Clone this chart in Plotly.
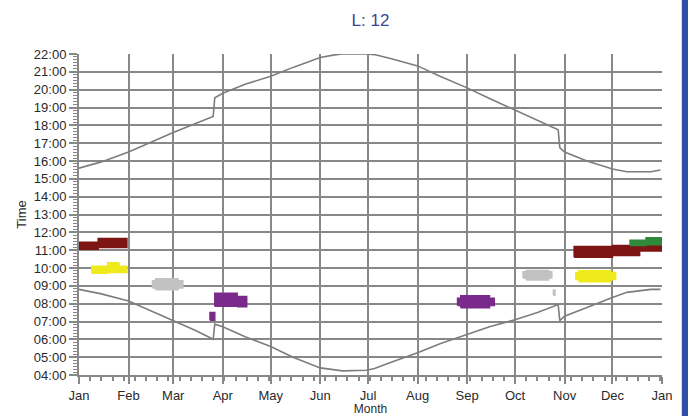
import plotly.graph_objects as go

# Sun curve samples (date, local time)
days = ["2023-01-01", "2023-01-15", "2023-02-01", "2023-02-15", "2023-03-01", "2023-03-15",
        "2023-03-26", "2023-03-27", "2023-04-01", "2023-04-15", "2023-05-01", "2023-05-15",
        "2023-06-01", "2023-06-10", "2023-06-15", "2023-06-30", "2023-07-05", "2023-07-15",
        "2023-08-01", "2023-08-15", "2023-09-01", "2023-09-15", "2023-10-01", "2023-10-15",
        "2023-10-28", "2023-10-29", "2023-11-01", "2023-11-15", "2023-12-01", "2023-12-10",
        "2023-12-25", "2023-12-31"]
sunset = ["15:36", "15:57", "16:30", "17:03", "17:36", "18:06",
          "18:30", "19:33", "19:48", "20:18", "20:45", "21:15",
          "21:48", "21:57", "22:00", "22:00", "21:58", "21:45",
          "21:20", "20:45", "20:06", "19:30", "18:51", "18:15",
          "17:45", "16:45", "16:30", "16:00", "15:33", "15:24",
          "15:24", "15:30"]
sunrise = ["08:48", "08:33", "08:09", "07:36", "07:03", "06:30",
           "06:00", "06:51", "06:42", "06:09", "05:36", "05:00",
           "04:24", "04:16", "04:14", "04:16", "04:22", "04:42",
           "05:15", "05:45", "06:15", "06:42", "07:06", "07:30",
           "07:57", "07:03", "07:18", "07:48", "08:21", "08:38",
           "08:48", "08:48"]

# Shading blocks per colour: start, end, low time, high time
red_start = ["2023-01-01", "2023-01-13", "2023-11-07", "2023-12-01", "2023-12-18"]
red_end = ["2023-01-13", "2023-01-31", "2023-12-01", "2023-12-18", "2024-01-01"]
red_low = ["11:03", "11:09", "10:36", "10:42", "10:57"]
red_high = ["11:27", "11:39", "11:12", "11:16", "11:27"]

yel_start = ["2023-01-09", "2023-01-19", "2023-01-26", "2023-11-08", "2023-11-10", "2023-11-30"]
yel_end = ["2023-01-19", "2023-01-26", "2023-01-31", "2023-11-10", "2023-11-30", "2023-12-03"]
yel_low = ["09:42", "09:45", "09:45", "09:21", "09:14", "09:21"]
yel_high = ["10:06", "10:18", "10:06", "09:45", "09:51", "09:45"]

grey_start = ["2023-02-16", "2023-02-18", "2023-03-04", "2023-10-06", "2023-10-08", "2023-10-22", "2023-10-25"]
grey_end = ["2023-02-18", "2023-03-04", "2023-03-07", "2023-10-08", "2023-10-22", "2023-10-24", "2023-10-26"]
grey_low = ["08:53", "08:47", "08:53", "09:26", "09:20", "09:26", "08:28"]
grey_high = ["09:17", "09:24", "09:17", "09:47", "09:52", "09:47", "08:46"]

pur_start = ["2023-03-24", "2023-03-27", "2023-04-10", "2023-08-26", "2023-08-28", "2023-09-15"]
pur_end = ["2023-03-27", "2023-04-10", "2023-04-16", "2023-08-28", "2023-09-15", "2023-09-18"]
pur_low = ["07:04", "07:51", "07:50", "07:54", "07:46", "07:54"]
pur_high = ["07:30", "08:35", "08:24", "08:18", "08:27", "08:18"]

grn_start = ["2023-12-12", "2023-12-22"]
grn_end = ["2023-12-22", "2024-01-01"]
grn_low = ["11:16", "11:18"]
grn_high = ["11:33", "11:42"]

month_labels = ["Jan", "Feb", "Mar", "Apr", "May", "Jun", "Jul", "Aug", "Sep", "Oct", "Nov", "Dec", "Jan"]


def t(s):
    return "2000-01-01 " + s


def blocks(starts, ends, lows, highs):
    xs, ys = [], []
    for s, e, lo, hi in zip(starts, ends, lows, highs):
        xs += [s, e, e, s, s, None]
        ys += [t(lo), t(lo), t(hi), t(hi), t(lo), None]
    return xs, ys


fig = go.Figure()

for st, en, lo, hi, col in [
    (red_start, red_end, red_low, red_high, "#7e1515"),
    (yel_start, yel_end, yel_low, yel_high, "#eeea1c"),
    (grey_start, grey_end, grey_low, grey_high, "#c2c2c2"),
    (pur_start, pur_end, pur_low, pur_high, "#7a2a8a"),
    (grn_start, grn_end, grn_low, grn_high, "#2f8a3c"),
]:
    xs, ys = blocks(st, en, lo, hi)
    fig.add_trace(go.Scatter(x=xs, y=ys, mode="lines", fill="toself", fillcolor=col,
                             line=dict(color=col, width=1.5), hoverinfo="skip"))

for vals in (sunset, sunrise):
    fig.add_trace(go.Scatter(x=days, y=[t(v) for v in vals], mode="lines",
                             line=dict(color="#7d7d7d", width=1.6)))

month_ticks = ["2023-%02d-01" % m for m in range(1, 13)] + ["2024-01-01"]

fig.update_layout(
    width=688, height=416,
    margin=dict(l=79, r=26, t=54, b=41),
    paper_bgcolor="white", plot_bgcolor="white",
    showlegend=False,
    font=dict(family="Liberation Sans, Arial, sans-serif", size=13, color="#2a2a2a"),
    title=dict(text="L: 12", x=0.5, xref="paper", y=0.952, yref="container", yanchor="middle",
               font=dict(size=17, color="#3d4494")),
    shapes=[dict(type="rect", xref="paper", yref="paper", x0=1.034, x1=1.1, y0=-0.2, y1=1.2,
                 fillcolor="#3050a8", line=dict(width=0), layer="above")],
)

fig.update_xaxes(
    type="date", range=["2023-01-01", "2024-01-01"], automargin=False,
    tickmode="array", tickvals=month_ticks, ticktext=month_labels,
    showgrid=True, gridcolor="#888", gridwidth=2,
    showline=True, linecolor="#888", linewidth=2,
    ticks="outside", ticklen=7, tickwidth=2, tickcolor="#888",
    minor=dict(ticks="outside", ticklen=4, tickwidth=1.5, tickcolor="#888",
               dtick=7 * 86400000, tick0="2023-01-01", showgrid=False),
    title=dict(text="Month", standoff=0, font=dict(size=12)),
    zeroline=False,
)

fig.update_yaxes(
    type="date", range=[t("04:00"), t("22:00")], automargin=False,
    dtick=3600000, tick0=t("04:00"), tickformat="%H:%M",
    showgrid=True, gridcolor="#888", gridwidth=2,
    showline=True, linecolor="#888", linewidth=2,
    ticks="outside", ticklen=8, tickwidth=2, tickcolor="#888",
    minor=dict(ticks="outside", ticklen=4, tickwidth=1, tickcolor="#888",
               dtick=600000, showgrid=False),
    title=dict(text="Time", standoff=4, font=dict(size=13)),
    zeroline=False,
)

# drop the default page margin so the figure sits at the window corner
fig.write_html("out.html", config={"displayModeBar": False},
               post_script="document.body.style.margin='0';document.body.style.overflow='hidden';")
